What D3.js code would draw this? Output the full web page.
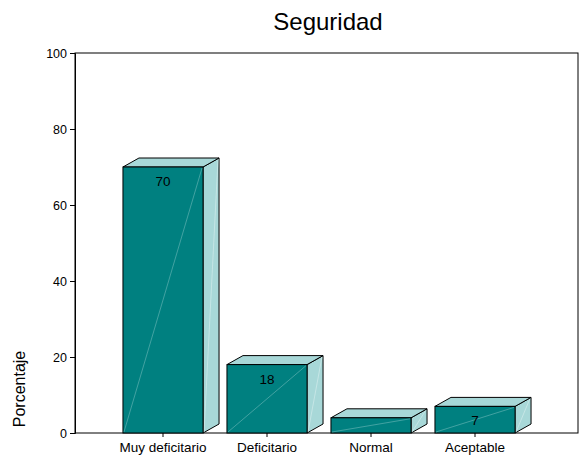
<!DOCTYPE html>
<html>
<head>
<meta charset="utf-8">
<script src="https://cdn.jsdelivr.net/npm/d3@7"></script>
<style>
  body { margin: 0; background: #fff; }
  text { font-family: "Liberation Sans", Arial, sans-serif; fill: #000; }
</style>
</head>
<body>
<div class="chart"></div>
<script>
const categories = ["Muy deficitario", "Deficitario", "Normal", "Aceptable"];
const values = [70, 18, 4, 7];
const barLabels = ["70", "18", "", "7"];
const yTicks = [0, 20, 40, 60, 80, 100];

const width = 582, height = 455;
const box = { left: 75, right: 578, top: 53, bottom: 433 };
const depth = { dx: 16, dy: -9 };

const svg = d3.select(".chart")
              .append("svg")
              .attr("width", width)
              .attr("height", height);

const x = d3.scaleBand()
            .domain(categories)
            .range([111, 527])
            .paddingInner(0.23)
            .paddingOuter(0.115);

const y = d3.scaleLinear()
            .domain([0, 100])
            .range([box.bottom, box.top]);

// frame
svg.append("rect")
   .attr("x", box.left)
   .attr("y", box.top)
   .attr("width", box.right - box.left)
   .attr("height", box.bottom - box.top)
   .attr("fill", "none")
   .attr("stroke", "#000")
   .attr("stroke-width", 1);

// y axis
const yAxis = svg.append("g")
   .attr("transform", `translate(${box.left},0)`)
   .call(d3.axisLeft(y).tickValues(yTicks).tickSize(5).tickPadding(3));
yAxis.select(".domain").attr("stroke", "#000");
yAxis.selectAll("text").style("font-size", "12.5px");

// x axis
const xAxis = svg.append("g")
   .attr("transform", `translate(0,${box.bottom})`)
   .call(d3.axisBottom(x).tickSize(4).tickPadding(5));
xAxis.select(".domain").remove();
xAxis.selectAll("text").style("font-size", "13.5px");

// bars
const bars = svg.append("g")
   .selectAll("g")
   .data(values)
   .join("g");

const frontColor = "#008080";
const sideColor = "#a8d8d8";

bars.each(function(d, i) {
  const g = d3.select(this);
  const x0 = x(categories[i]);
  const x1 = x0 + x.bandwidth();
  const yt = y(d);
  const yb = y(0);
  const { dx, dy } = depth;

  // side face
  g.append("path")
   .attr("d", `M${x1},${yb} L${x1 + dx},${yb + dy} L${x1 + dx},${yt + dy} L${x1},${yt} Z`)
   .attr("fill", sideColor)
   .attr("stroke", "#000")
   .attr("stroke-linejoin", "round");
  g.append("path")
   .attr("d", `M${x1 + 1},${yb - 1} L${x1 + dx - 1},${yt + dy + 1}`)
   .attr("stroke", "#d8efef")
   .attr("stroke-width", 0.6);

  // top face
  g.append("path")
   .attr("d", `M${x0},${yt} L${x0 + dx},${yt + dy} L${x1 + dx},${yt + dy} L${x1},${yt} Z`)
   .attr("fill", sideColor)
   .attr("stroke", "#000")
   .attr("stroke-linejoin", "round");

  // front face
  g.append("rect")
   .attr("x", x0)
   .attr("y", yt)
   .attr("width", x1 - x0)
   .attr("height", yb - yt)
   .attr("fill", frontColor)
   .attr("stroke", "#000");
  g.append("path")
   .attr("d", `M${x0 + 1},${yb - 1} L${x1 - 1},${yt + 1}`)
   .attr("stroke", "#6fb8b8")
   .attr("stroke-width", 0.6);

  if (barLabels[i]) {
    g.append("text")
     .attr("x", (x0 + x1) / 2)
     .attr("y", yt + 19)
     .attr("text-anchor", "middle")
     .style("font-size", "13.5px")
     .text(barLabels[i]);
  }
});

// title
svg.append("text")
   .attr("x", 328)
   .attr("y", 30)
   .attr("text-anchor", "middle")
   .style("font-size", "24px")
   .text("Seguridad");

// y label
svg.append("text")
   .attr("transform", `translate(25,389) rotate(-90)`)
   .attr("text-anchor", "middle")
   .style("font-size", "16px")
   .text("Porcentaje");
</script>
</body>
</html>
